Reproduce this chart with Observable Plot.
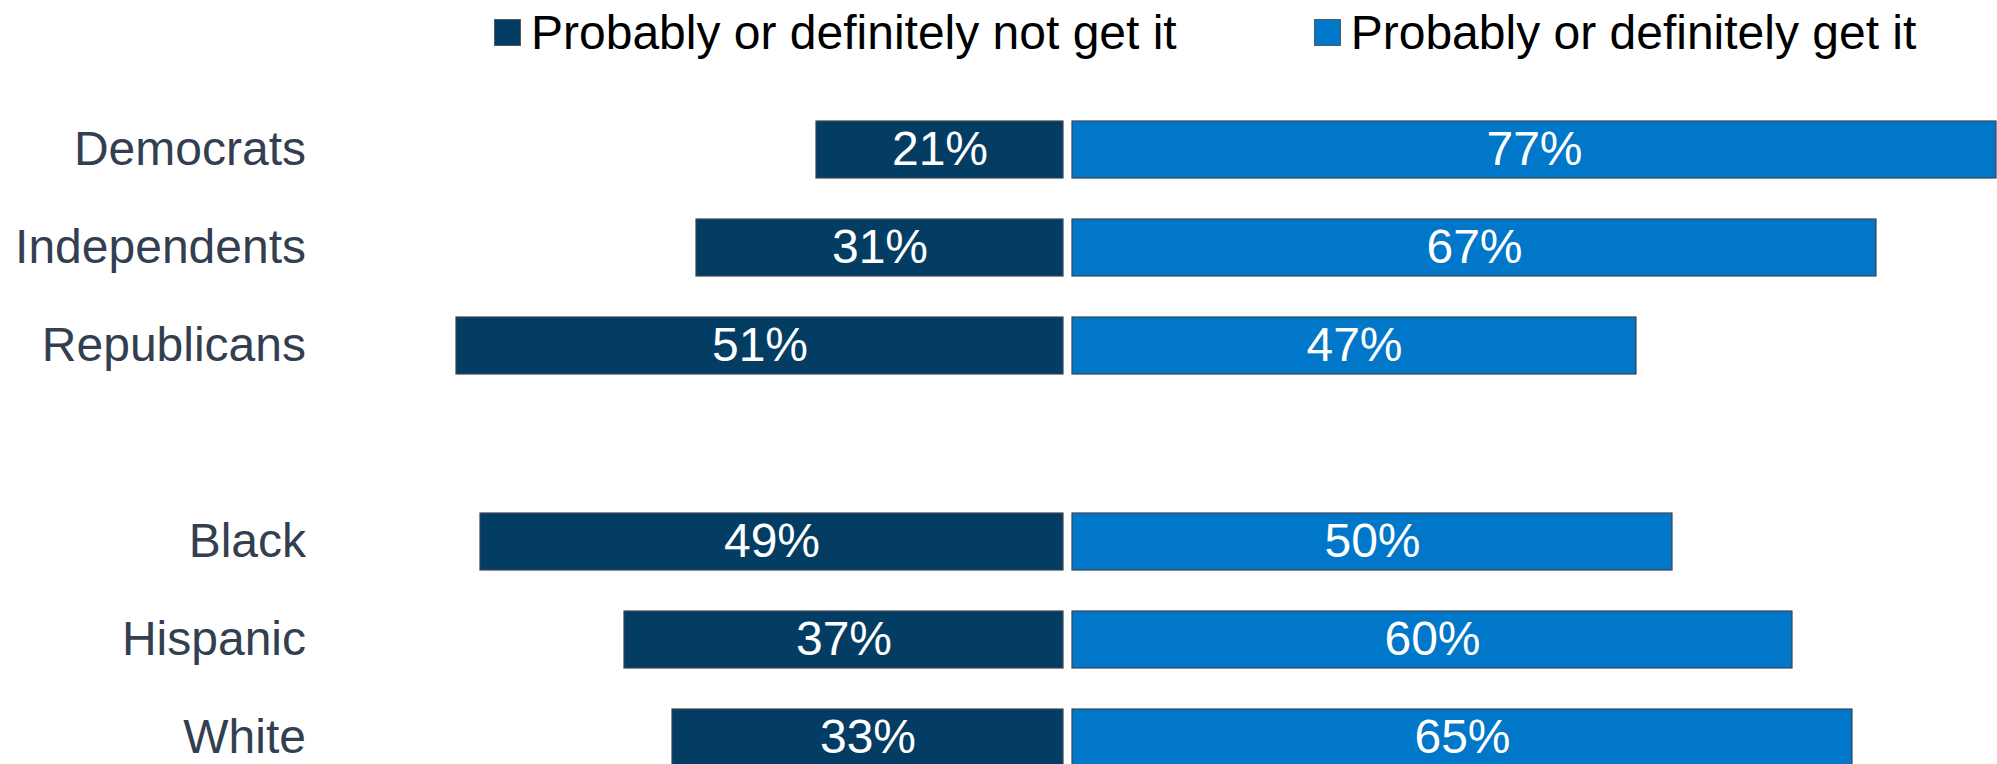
<!DOCTYPE html>
<html><head><meta charset="utf-8">
<script src="https://cdn.jsdelivr.net/npm/d3@7"></script>
<script src="https://cdn.jsdelivr.net/npm/@observablehq/plot@0.6"></script>
<style>
html,body{margin:0;padding:0;background:#fff;overflow:hidden;}
body{width:1997px;height:764px;font-family:"Liberation Sans",Arial,sans-serif;}
#legend{height:64px;display:flex;align-items:center;padding-left:494px;font-size:48px;color:#000;white-space:nowrap;}
.item{display:flex;align-items:center;}
.item + .item{margin-left:137px;}
.sw{width:25px;height:25px;border:1px solid #555a63;margin-right:10px;box-sizing:content-box;}
#chart svg{display:block;}
</style></head><body>
<div id="legend"></div>
<div id="chart"></div>
<script>
// Row order (with a blank spacer row between party and race groups)
const rows = ["Democrats", "Independents", "Republicans", "", "Black", "Hispanic", "White"];
const categories = ["Democrats", "Independents", "Republicans", "Black", "Hispanic", "White"];
const notGetIt = [21, 31, 51, 49, 37, 33];
const getIt = [77, 67, 47, 50, 60, 65];
const seriesNames = ["Probably or definitely not get it", "Probably or definitely get it"];
const seriesColors = ["#033d64", "#0077c8"];

// Legend
const legend = document.getElementById("legend");
seriesNames.forEach((name, i) => {
  const item = document.createElement("div");
  item.className = "item";
  const sw = document.createElement("span");
  sw.className = "sw";
  sw.style.background = seriesColors[i];
  const label = document.createElement("span");
  label.textContent = name;
  item.append(sw, label);
  legend.append(item);
});

const notGetData = categories.map((c, i) => ({cat: c, v: notGetIt[i]}));
const getData = categories.map((c, i) => ({cat: c, v: getIt[i]}));

const chart = Plot.plot({
  width: 1997,
  height: 743,
  marginLeft: 347.5,
  marginRight: 5.5,
  marginTop: 15,
  marginBottom: 0,
  style: {fontFamily: "'Liberation Sans', Arial, sans-serif", background: "transparent"},
  x: {domain: [-60, 77], axis: null},
  y: {domain: rows, padding: 0.42, axis: null},
  marks: [
    Plot.axisY({tickSize: 0, tickPadding: 42, fontSize: 48, color: "#333f50", label: null}),
    Plot.barX(notGetData, {y: "cat", x1: d => -d.v, x2: 0, fill: seriesColors[0], stroke: "#3d4450", strokeWidth: 1.2, dx: -4.5, insetLeft: 5}),
    Plot.barX(getData, {y: "cat", x1: 0, x2: d => d.v, fill: seriesColors[1], stroke: "#3d4450", strokeWidth: 1.2, dx: 4.5}),
    Plot.text(notGetData, {y: "cat", x: d => -d.v / 2, text: d => d.v + "%", fill: "white", fontSize: 48, dx: -2}),
    Plot.text(getData, {y: "cat", x: d => d.v / 2, text: d => d.v + "%", fill: "white", fontSize: 48, dx: 4.5})
  ]
});
document.getElementById("chart").append(chart);
</script>
</body></html>
